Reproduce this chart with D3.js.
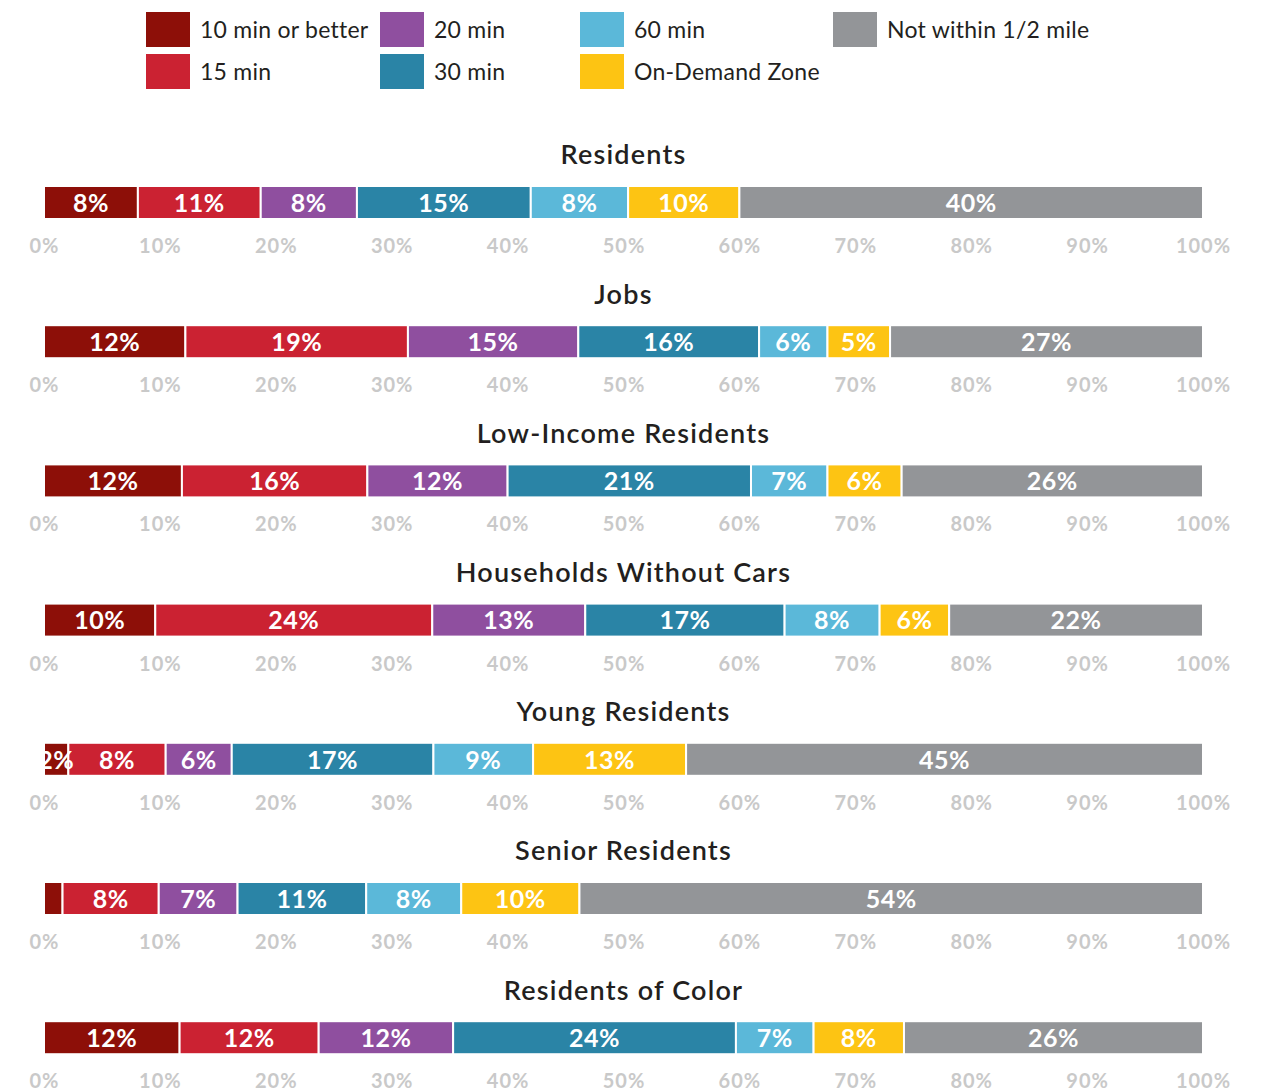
<!DOCTYPE html>
<html>
<head>
<meta charset="utf-8">
<script src="https://cdn.jsdelivr.net/npm/d3@7"></script>
<style>
  body { margin: 0; background: #fff; }
  svg text { font-family: Lato, "Open Sans", sans-serif; }
</style>
</head>
<body>
<script>
// series (legend order) and their colours
var series = ["10 min or better", "15 min", "20 min", "30 min", "60 min", "On-Demand Zone", "Not within 1/2 mile"]
var colors = ["#8d0f08", "#cb2232", "#8f4f9f", "#2a84a6", "#5bb8d9", "#fdc413", "#939598"]

// groups, one bar each
var groups = ["Residents", "Jobs", "Low-Income Residents", "Households Without Cars",
              "Young Residents", "Senior Residents", "Residents of Color"]

// share of each group per frequency band, percent
var residents   = [8.1, 10.6, 8.3, 15.0, 8.4, 9.6, 40.0]
var jobs        = [12.2, 19.2, 14.7, 15.6, 5.9, 5.4, 27.0]
var lowIncome   = [11.9, 16.0, 12.1, 21.0, 6.6, 6.4, 26.0]
var noCars      = [9.6, 23.9, 13.2, 17.2, 8.2, 6.0, 21.9]
var young       = [2.1, 8.4, 5.7, 17.4, 8.6, 13.2, 44.6]
var seniors     = [1.6, 8.3, 6.8, 11.1, 8.2, 10.2, 53.8]
var ofColor     = [11.7, 12.0, 11.6, 24.4, 6.7, 7.8, 25.8]
var values = [residents, jobs, lowIncome, noCars, young, seniors, ofColor]

var tickValues = [0, 10, 20, 30, 40, 50, 60, 70, 80, 90, 100]

var width = 1262, height = 1092
var svg = d3.select("body").append("svg").attr("width", width).attr("height", height)

var x = d3.scaleLinear().domain([0, 100]).range([44, 1203])

// legend, laid out in columns of two
var legendCols = [146, 380, 580, 833]
var legend = svg.selectAll("g.legend").data(series).enter().append("g")
    .attr("class", "legend")
    .attr("transform", function(d, i){
        return "translate(" + legendCols[Math.floor(i / 2)] + "," + (12 + (i % 2) * 42) + ")"
    })
legend.append("rect").attr("width", 44).attr("height", 35)
    .attr("fill", function(d, i){ return colors[i] })
legend.append("text").attr("x", 54).attr("y", 18).attr("dy", "0.35em")
    .attr("font-size", 23).attr("letter-spacing", 0.25).attr("fill", "#231f20")
    .text(function(d){ return d })

// clip so a label wider than its slice stays inside the bar
svg.append("clipPath").attr("id", "barclip").append("rect")
    .attr("x", x(0)).attr("y", 0).attr("width", x(100) - x(0)).attr("height", height)

var rowStep = 139.2
var panels = svg.selectAll("g.panel").data(groups).enter().append("g")
    .attr("class", "panel")
    .attr("transform", function(d, i){ return "translate(0," + (155 + i * rowStep) + ")" })

panels.append("text")
    .attr("x", (x(0) + x(100)) / 2).attr("y", 0).attr("dy", "0.35em")
    .attr("text-anchor", "middle").attr("font-size", 27).attr("font-weight", 600)
    .attr("letter-spacing", 1.2).attr("fill", "#231f20")
    .text(function(d){ return d })

panels.each(function(g, gi){
    var p = d3.select(this)
    var row = values[gi]
    var start = 0
    var segs = row.map(function(v, i){
        var s = {v: v, i: i, x0: start, x1: start + v}
        start += v
        return s
    })
    var bar = p.append("g").attr("clip-path", "url(#barclip)")
    bar.selectAll("rect").data(segs).enter().append("rect")
        .attr("x", function(d){ return x(d.x0) })
        .attr("y", 31)
        .attr("width", function(d){ return x(d.x1) - x(d.x0) })
        .attr("height", 33)
        .attr("fill", function(d){ return colors[d.i] })
        .attr("stroke", "#fff").attr("stroke-width", 2)
    bar.selectAll("text").data(segs.filter(function(d){ return d.v >= 1.8 })).enter().append("text")
        .attr("x", function(d){ return x((d.x0 + d.x1) / 2) })
        .attr("y", 48).attr("dy", "0.35em")
        .attr("text-anchor", "middle").attr("font-size", 25).attr("font-weight", "bold")
        .attr("letter-spacing", 0.5).attr("fill", "#fff")
        .text(function(d){ return Math.round(d.v) + "%" })

    var axis = p.append("g").attr("transform", "translate(0,80)")
        .call(d3.axisBottom(x).tickValues(tickValues).tickSize(0).tickPadding(0)
            .tickFormat(function(d){ return d + "%" }))
    axis.select(".domain").remove()
    axis.selectAll("text").attr("font-size", 20).attr("font-weight", "bold")
        .attr("letter-spacing", 1).attr("fill", "#c9c9c9").attr("dy", "0.35em").attr("y", 11)
})
</script>
</body>
</html>
